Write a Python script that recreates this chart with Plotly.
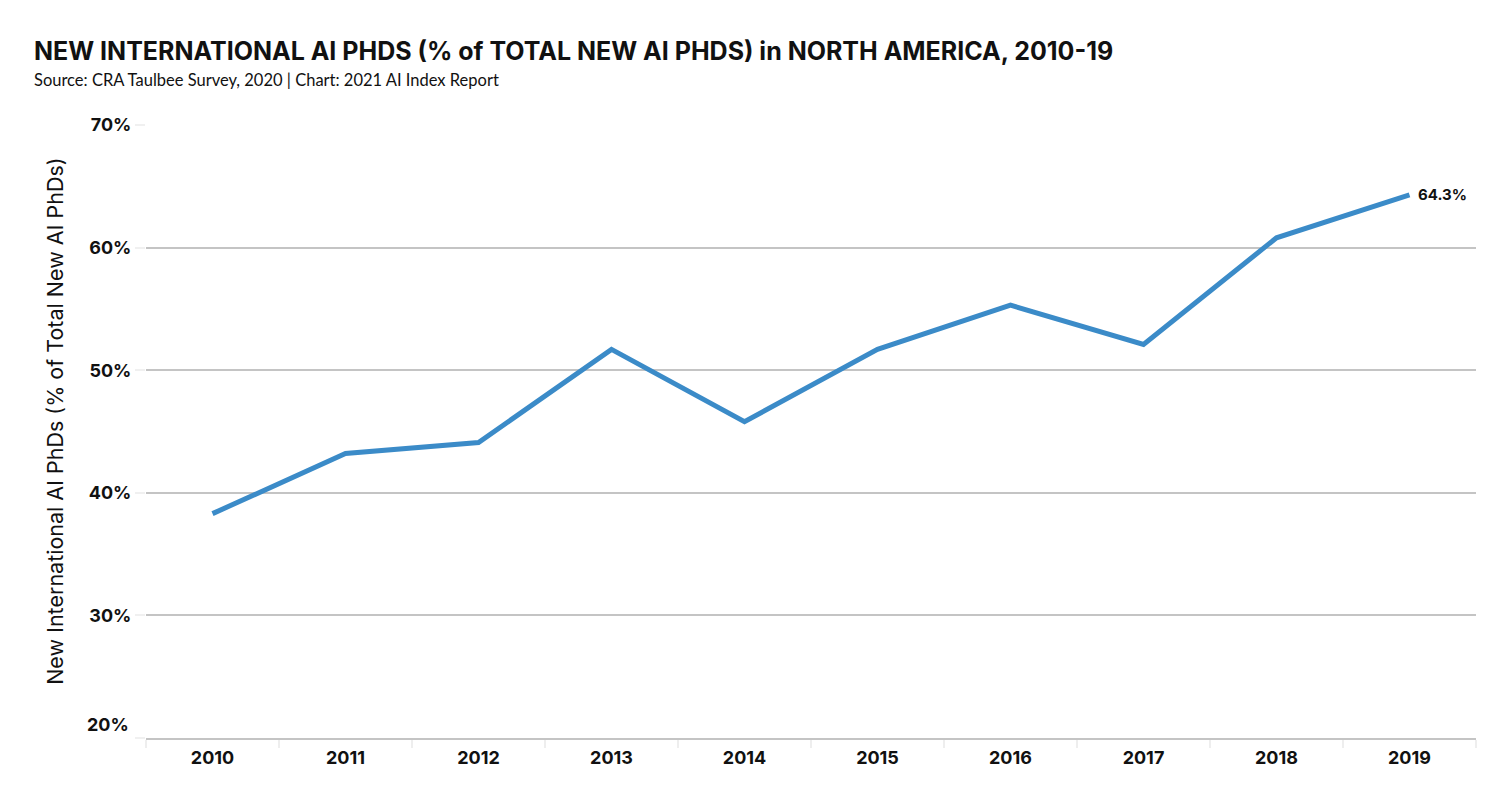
import plotly.graph_objects as go

years = ["2010", "2011", "2012", "2013", "2014", "2015", "2016", "2017", "2018", "2019"]
share = [38.3, 43.2, 44.1, 51.7, 45.8, 51.7, 55.3, 52.1, 60.8, 64.3]
y_ticks = [20, 30, 40, 50, 60, 70]
y_tick_labels = ["20%", "30%", "40%", "50%", "60%", "70%"]

fig = go.Figure()
fig.add_trace(go.Scatter(
    x=years, y=share, mode="lines",
    line=dict(color="#3b8bc8", width=5),
    hoverinfo="skip", showlegend=False,
))
fig.add_annotation(
    xref="x", yref="y",
    x=len(years) - 1, y=share[-1], text="<b>%.1f%%</b>" % share[-1],
    showarrow=False, xanchor="left", yanchor="middle", xshift=6,
    font=dict(family="Inter", size=15, color="#111111"),
)
fig.add_annotation(
    xref="paper", yref="paper", x=-0.0855, y=1.121, xanchor="left", yanchor="middle",
    text="<b>NEW INTERNATIONAL AI PHDS (% of TOTAL NEW AI PHDS) in NORTH AMERICA, 2010-19</b>",
    showarrow=False, font=dict(family="Inter", size=25, color="#111111"),
)
fig.add_annotation(
    xref="paper", yref="paper", x=-0.0855, y=1.073, xanchor="left", yanchor="middle",
    text="Source: CRA Taulbee Survey, 2020 | Chart: 2021 AI Index Report",
    showarrow=False, font=dict(family="Lato", size=16.5, color="#111111"),
)
fig.add_annotation(
    xref="paper", yref="paper", x=-0.0686, y=0.517, xanchor="center", yanchor="middle",
    text="New International AI PhDs (% of Total New AI PhDs)", textangle=-90,
    showarrow=False, font=dict(family="Inter", size=21.5, color="#111111"),
)
# lowest tick label sits slightly above its baseline, as in the reference
fig.add_annotation(
    xref="paper", yref="y", x=0, y=y_ticks[0], xanchor="right", yanchor="middle",
    xshift=-15, yshift=14, text="<b>%s</b>" % y_tick_labels[0],
    showarrow=False, font=dict(family="Inter", size=18, color="#111111"),
)

fig.update_layout(
    width=1500, height=800,
    margin=dict(l=146, r=24, t=125, b=62),
    paper_bgcolor="white", plot_bgcolor="white",
    font=dict(family="Inter", color="#111111"),
)
fig.update_xaxes(
    type="category", range=[-0.5, len(years) - 0.5],
    tickson="boundaries", ticks="outside", ticklen=8, tickcolor="#eeeeee", tickwidth=2,
    showgrid=False, showline=True, linecolor="#c4c4c4", linewidth=1.5, zeroline=False,
    ticklabelstandoff=3,
    tickfont=dict(family="Inter", size=18, color="#111111", weight=700),
)
fig.update_yaxes(
    range=[20, 70], tickvals=y_ticks, ticktext=[""] + y_tick_labels[1:],
    showgrid=True, gridcolor="#c4c4c4", gridwidth=1.5,
    ticks="outside", ticklen=10, tickcolor="#f0f0f0", tickwidth=2,
    zeroline=False, showline=False,
    tickfont=dict(family="Inter", size=18, color="#111111", weight=700),
)
fig.write_html("out.html")
